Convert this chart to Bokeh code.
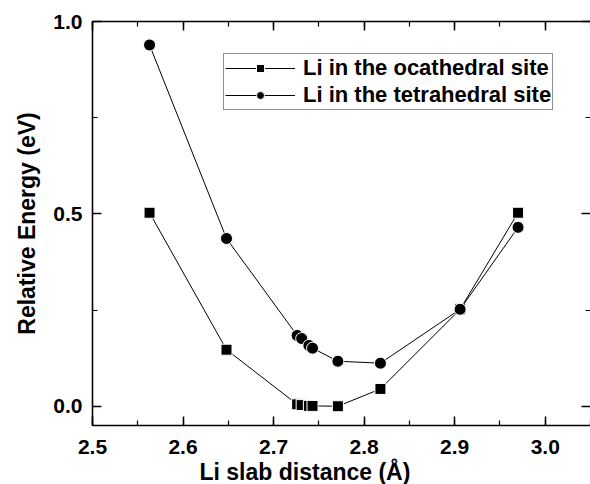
from bokeh.plotting import figure
from bokeh.models import (Range1d, LinearAxis, SingleIntervalTicker, Legend,
                          LegendItem, Title, ColumnDataSource, PrintfTickFormatter,
                          CustomJSTickFormatter)
from bokeh.embed import file_html
from bokeh.resources import INLINE

# ---- data ----
slab_distance = [2.563, 2.648, 2.726, 2.731, 2.739, 2.743, 2.771, 2.818, 2.906, 2.970]
octahedral_energy = [0.503, 0.147, 0.005, 0.003, 0.001, 0.001, 0.000, 0.045, 0.252, 0.503]
tetrahedral_energy = [0.939, 0.436, 0.184, 0.176, 0.158, 0.151, 0.117, 0.112, 0.252, 0.465]
series_labels = ["Li in the ocathedral site", "Li in the tetrahedral site"]
x_label = "Li slab distance (Å)"
y_label = "Relative Energy (eV)"

FONT = "Liberation Sans"

src = ColumnDataSource(dict(x=slab_distance, oct=octahedral_energy, tet=tetrahedral_energy))

p = figure(width=590, height=484, output_backend="svg", toolbar_location=None,
           x_range=Range1d(2.5, 3.05), y_range=Range1d(-0.05, 1.0),
           x_axis_location=None, y_axis_location=None,
           min_border_left=92, min_border_right=0, min_border_top=21, min_border_bottom=58)
p.xgrid.visible = False
p.ygrid.visible = False
p.outline_line_color = None
p.background_fill_color = "white"
p.border_fill_color = "white"


def style_axis(ax, interval, show_labels=True, show_line=True):
    ax.ticker = SingleIntervalTicker(interval=interval, num_minor_ticks=2)
    ax.axis_line_width = 1.6
    ax.axis_line_color = "black" if show_line else None
    ax.major_tick_in = 9
    ax.major_tick_out = 0
    ax.minor_tick_in = 5
    ax.minor_tick_out = 0
    ax.major_tick_line_width = 1.5
    ax.minor_tick_line_width = 1.2
    ax.major_label_text_font = FONT
    ax.major_label_text_font_style = "bold"
    ax.major_label_text_color = "black"
    ax.major_label_text_font_size = "21px"
    if show_labels:
        ax.formatter = PrintfTickFormatter(format="%.1f")
        ax.major_label_standoff = 8
    else:
        ax.formatter = CustomJSTickFormatter(code="return ''")
        ax.major_label_standoff = 0


xb = LinearAxis()
style_axis(xb, 0.1)
xb.major_label_standoff = 14
p.add_layout(xb, "below")

yl = LinearAxis(axis_label=y_label)
style_axis(yl, 0.5)
yl.major_label_standoff = 10
yl.axis_label_text_font = FONT
yl.axis_label_text_font_style = "bold"
yl.axis_label_text_font_size = "23px"
yl.axis_label_text_color = "black"
yl.axis_label_standoff = 10
p.add_layout(yl, "left")

xt = LinearAxis()
style_axis(xt, 0.1, show_labels=False)
p.add_layout(xt, "above")

yr = LinearAxis()
style_axis(yr, 0.5, show_labels=False, show_line=False)
p.add_layout(yr, "right")

xtitle = Title(text=x_label, align="left", offset=107, standoff=0,
               vertical_align="bottom", text_line_height=0.8,
               text_font=FONT, text_font_style="bold", text_font_size="23px",
               text_color="black")
p.add_layout(xtitle, "below")

# ---- series ----
l1 = p.line("x", "oct", source=src, line_color="black", line_width=1)
s1 = p.scatter("x", "oct", source=src, marker="square", size=11,
               fill_color="black", line_color="white", line_width=1)
l2 = p.line("x", "tet", source=src, line_color="black", line_width=1)
s2 = p.scatter("x", "tet", source=src, marker="circle", size=12,
               fill_color="black", line_color="white", line_width=1)

legend = Legend(items=[LegendItem(label=series_labels[0], renderers=[l1, s1]),
                       LegendItem(label=series_labels[1], renderers=[l2, s2])],
                location=(131, 315), margin=0, padding=1, spacing=1,
                glyph_width=70, glyph_height=20, label_standoff=8,
                label_text_font=FONT, label_text_font_style="bold",
                label_text_font_size="22px", label_text_color="black",
                border_line_color="#222222", border_line_width=1.5,
                background_fill_color="white", background_fill_alpha=1.0)
p.add_layout(legend)

open("out.html", "w").write(file_html(p, INLINE))
